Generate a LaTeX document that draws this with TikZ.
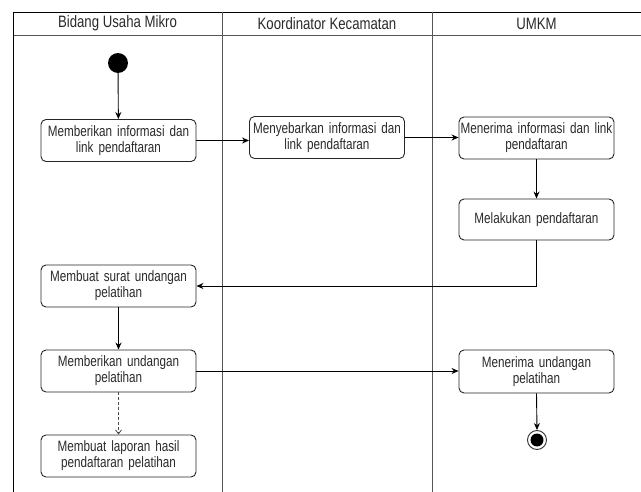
\documentclass[tikz,border=0pt]{standalone}
\usepackage{fontspec}
\setmainfont[FakeStretch=0.78]{Liberation Sans}
\newfontfamily\hdfont[FakeStretch=0.8]{Liberation Sans}
\usetikzlibrary{arrows.meta,calc}
\definecolor{txt}{HTML}{2A2A2A}
\definecolor{lane}{HTML}{555555}
\tikzset{
  act/.style={draw=black!85, line width=0.9pt, rounded corners=5pt, minimum width=155pt, minimum height=42pt,
    inner sep=1pt, align=center, text=txt, font=\fontsize{15}{16}\selectfont, text width=152pt},
  flow/.style={draw=black, line width=0.9pt, -{Stealth[length=7pt,width=6pt]}},
  dflow/.style={draw=black!70, line width=0.8pt, dashed, dash pattern=on 3pt off 2pt, -{Straight Barb[length=4pt,width=6pt]}},
  lanehead/.style={text=txt, font=\hdfont\fontsize{16.5}{18}\selectfont},
  laneline/.style={draw=lane, line width=0.9pt}
}
\begin{document}
\begin{tikzpicture}[x=1pt,y=-1pt]
\useasboundingbox[fill=white] (0,0) rectangle (641,492);
% swimlanes
\draw[laneline, draw=black] (13,12) -- (641,12);
\draw[laneline] (13,35) -- (641,35);
\draw[laneline, draw=black] (13,12) -- (13,492);
\draw[laneline] (222,12) -- (222,492);
\draw[laneline] (432,12) -- (432,492);
\node[lanehead] (h1) at (117.5,23.5) {Bidang Usaha Mikro};
\node[lanehead] (h2) at (327,23.5) {Koordinator Kecamatan};
\node[lanehead] (h3) at (536.5,23.5) {UMKM};
% start / end
\node[circle, fill=black, minimum size=20pt, inner sep=0pt] (start) at (118,63) {};
\node[circle, draw=black!80, line width=0.9pt, fill=white, minimum size=19pt, inner sep=0pt] (end) at (537,440) {};
\node[circle, fill=black, minimum size=13pt, inner sep=0pt] (endin) at (537,440) {};
% activities
\node[act] (b1) at (118.5,140.5) {Memberikan informasi dan\\link pendaftaran};
\node[act] (b2) at (327,137.5) {Menyebarkan informasi dan\\link pendaftaran};
\node[act] (b3) at (536.5,138) {Menerima informasi dan link\\pendaftaran};
\node[act, minimum height=41pt] (b4) at (536.5,219.5) {Melakukan pendaftaran};
\node[act] (b5) at (118.5,286) {Membuat surat undangan\\pelatihan};
\node[act] (b6) at (118.5,371) {Memberikan undangan\\pelatihan};
\node[act] (b7) at (118.5,456) {Membuat laporan hasil\\pendaftaran pelatihan};
\node[act, minimum height=43pt] (b8) at (536.5,371.5) {Menerima undangan\\pelatihan};
% connectors
\draw[flow] (start) -- (b1);
\draw[flow] (b1.east) -- (b1.east -| b2.west);
\draw[flow] (b2.east) -- (b2.east -| b3.west);
\draw[flow] (b3) -- (b4);
\draw[flow] (b4.south) |- (b5.east);
\draw[flow] (b5) -- (b6);
\draw[dflow] (b6) -- (b7);
\draw[flow] (b6.east) -- (b6.east -| b8.west);
\draw[flow] (b8.south) -- (end.north);
\end{tikzpicture}
\end{document}
